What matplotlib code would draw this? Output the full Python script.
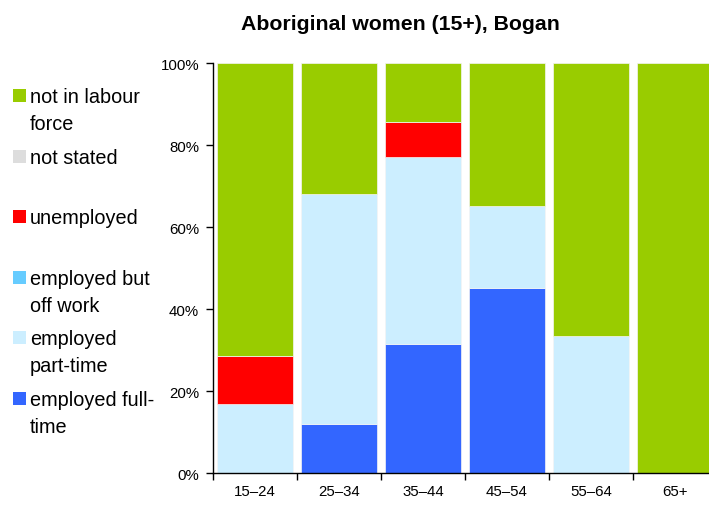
import numpy as np
import matplotlib.pyplot as plt
from matplotlib.patches import Rectangle

plt.rcParams['font.family'] = ['Liberation Sans', 'DejaVu Sans']

# Data (percent of age group)
ages = ['15–24', '25–34', '35–44', '45–54', '55–64', '65+']
full_time = [0.0, 12.0, 31.5, 45.2, 0.0, 0.0]
part_time = [16.8, 56.0, 45.6, 19.9, 33.4, 0.0]
off_work = [0.0, 0.0, 0.0, 0.0, 0.0, 0.0]
unemployed = [11.8, 0.0, 8.5, 0.0, 0.0, 0.0]
not_stated = [0.0, 0.0, 0.0, 0.0, 0.0, 0.0]
not_in_lf = [71.4, 32.0, 14.4, 34.9, 66.6, 100.0]

series = [
    ('employed full-\ntime', full_time, '#3366ff'),
    ('employed\npart-time', part_time, '#cceeff'),
    ('employed but\noff work', off_work, '#66ccff'),
    ('unemployed', unemployed, '#ff0000'),
    ('not stated', not_stated, '#dddddd'),
    ('not in labour\nforce', not_in_lf, '#99cc00'),
]

fig = plt.figure(figsize=(7.09, 5.06), dpi=100)
ax = fig.add_axes([0.3004, 0.0632, 0.7109, 0.8098])

x = np.arange(len(ages))
bottom = np.zeros(len(ages))
for name, vals, col in series:
    ax.bar(x, vals, width=0.913, bottom=bottom, color=col,
           edgecolor='#f4f4f4', linewidth=0.5)
    bottom += np.array(vals)

ax.set_xlim(-0.5, len(ages) - 0.5)
ax.set_ylim(0, 100)
ax.set_yticks([0, 20, 40, 60, 80, 100])
ax.set_yticklabels(['0%', '20%', '40%', '60%', '80%', '100%'], fontsize=10.8)
ax.set_xticks(np.arange(len(ages) + 1) - 0.5, minor=False)
ax.set_xticklabels([''] * (len(ages) + 1))
ax.set_xticks(x, minor=True)
ax.set_xticklabels(ages, minor=True, fontsize=10.8)
ax.tick_params(axis='x', which='minor', length=0, pad=8)
ax.tick_params(axis='x', which='major', length=5, width=1)
ax.tick_params(axis='y', length=5, width=1, pad=5)
for s in ['top', 'right']:
    ax.spines[s].set_visible(False)
ax.spines['left'].set_linewidth(1)
ax.spines['bottom'].set_linewidth(1)

fig.text(400 / 709, 1 - 25 / 506, 'Aboriginal women (15+), Bogan',
         ha='center', va='center', fontsize=15.3, fontweight='bold')

# legend drawn by hand, top entry first
W, H = 709.0, 506.0
legend_y = [96, 157, 217, 278, 338, 399]
for (name, vals, col), yc in zip(series[::-1], legend_y):
    fig.add_artist(Rectangle((13 / W, 1 - (yc + 6.5) / H), 13 / W, 13 / H,
                             transform=fig.transFigure, facecolor=col,
                             edgecolor='none'))
    fig.text(30 / W, 1 - (yc - 8) / H, name, ha='left', va='top',
             fontsize=14.3, linespacing=1.55)

fig.savefig('out.png', dpi=100)
